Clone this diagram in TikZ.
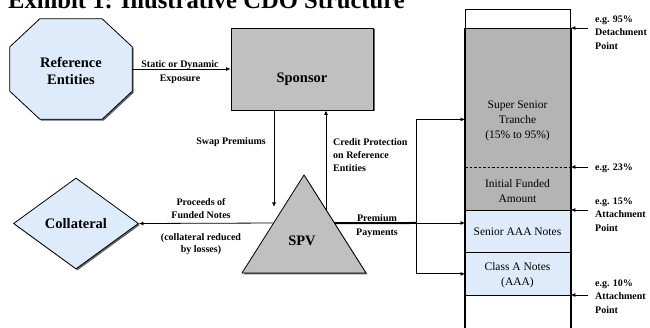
\documentclass[tikz,border=0pt]{standalone}
\usepackage{fontspec}
\setmainfont{Liberation Serif}
\usetikzlibrary{arrows.meta,shapes.geometric,shadows,calc}
\definecolor{lblue}{RGB}{221,235,250}
\definecolor{lgray}{RGB}{192,192,192}
\definecolor{sgray}{RGB}{180,180,180}
\begin{document}
\begin{tikzpicture}[x=1pt,y=-1pt,
  shad/.style={drop shadow={shadow xshift=1.5pt,shadow yshift=-1.5pt,fill=black!60,opacity=1}},
  arr/.style={-{Latex[length=4.5pt,width=4pt]}, line width=0.8pt},
  lbl/.style={font=\fontsize{10}{13.5}\selectfont\bfseries, align=center, inner sep=0pt},
  big/.style={font=\fontsize{14.5}{17}\selectfont\bfseries, align=center, inner sep=0pt},
  stk/.style={font=\fontsize{11.5}{15}\selectfont, align=center, inner sep=0pt},
  seg/.style={draw, line width=0.8pt, minimum width=105pt, inner sep=0pt, anchor=north west},
  rlbl/.style={font=\fontsize{10}{13.5}\selectfont\bfseries, align=left, inner sep=0pt, anchor=base west},
]
\useasboundingbox (0,0) rectangle (650,328);
\clip (0,0) rectangle (650,328);

% title
\node[anchor=base west, inner sep=0pt, font=\fontsize{24.6}{28}\selectfont\bfseries] (title) at (8,9) {Exhibit 1: Illustrative CDO Structure};

% reference entities (octagon)
\node[minimum width=122pt, minimum height=100pt, inner sep=0pt] (ref) at (71,69) {};
\draw[line width=0.8pt, fill=lblue, shad]
  ($(ref.north west)+(30,0)$) -- ($(ref.north east)+(-30,0)$) --
  ($(ref.north east)+(0,28)$) -- ($(ref.south east)+(0,-28)$) --
  ($(ref.south east)+(-30,0)$) -- ($(ref.south west)+(30,0)$) --
  ($(ref.south west)+(0,-28)$) -- ($(ref.north west)+(0,28)$) -- cycle;
\node[big, anchor=base] (reftxt) at (71,85) {Reference\\Entities};

% sponsor
\node[draw, line width=0.8pt, fill=lgray, minimum width=142pt, minimum height=82pt, shad] (spon) at (302,69) {};
\node[big, anchor=base] (spontxt) at (302,83) {Sponsor};

% collateral
\node[diamond, draw, line width=0.8pt, fill=lblue, minimum width=125pt, minimum height=91pt, inner sep=0pt, shad] (coll) at (76,223.5) {};
\node[big, anchor=base] (colltxt) at (76,229) {Collateral};

% SPV triangle
\coordinate (A) at (304,175);
\coordinate (B) at (242,273);
\coordinate (C) at (366,273);
\draw[line width=0.8pt, fill=lgray, shad] (A) -- (B) -- (C) -- cycle;
\node[big, anchor=base] (spvtxt) at (302,246) {SPV};

% stack
\node[seg, minimum height=19pt, fill=white] (top) at (465,9) {};
\node[seg, minimum height=182pt, fill=sgray] (gray) at (465,28) {};
\node[seg, minimum height=42pt, fill=lblue] (saaa) at (465,210) {};
\node[seg, minimum height=43pt, fill=lblue] (classa) at (465,252) {};
\node[seg, minimum height=45pt, fill=white] (bot) at (465,295) {};
\draw[line width=1.4pt] (gray.north west) -- (bot.south west);
\draw[line width=1.4pt] (gray.north east) -- (bot.south east);
\coordinate (d23) at (588,167);
\draw[line width=0.7pt, dash pattern=on 2.5pt off 2pt] (d23 -| gray.west) -- (d23 -| gray.east);

\node[stk, anchor=base] (sstxt) at (517.5,139) {Super Senior\\Tranche\\(15\% to 95\%)};
\node[stk, anchor=base] (ifatxt) at (517.5,203) {Initial Funded\\Amount};
\node[stk, anchor=base] (saaatxt) at (517.5,236) {Senior AAA Notes};
\node[stk, anchor=base] (classatxt) at (517.5,286) {Class A Notes\\(AAA)};

% right markers
\coordinate (d95) at (588,28);
\coordinate (d15) at (588,210);
\coordinate (d10) at (588,295);
\draw[arr] (d95) -- (d95 -| top.east);
\draw[arr] (d23) -- (d23 -| gray.east);
\draw[arr] (d15) -- (d15 -| saaa.east);
\draw[arr] (d10) -- (d10 -| classa.east);
\node[rlbl] (l95) at (595,49.5) {e.g. 95\%\\Detachment\\Point};
\node[rlbl] (l23) at (595,170.5) {e.g. 23\%};
\node[rlbl] (l15) at (595,231.5) {e.g. 15\%\\Attachment\\Point};
\node[rlbl] (l10) at (595,313.5) {e.g. 10\%\\Attachment\\Point};

% connectors
\draw[arr] (ref.east) -- (spon.west);
\node[lbl, anchor=base, font=\fontsize{10}{14}\selectfont\bfseries] (exptxt) at (180,82) {Static or Dynamic\\Exposure};

\coordinate (swapend) at (274,207);
\draw[arr] (swapend |- spon.south) -- (swapend);
\node[lbl, anchor=base east] (swaptxt) at (266,145) {Swap Premiums};

\coordinate (cp) at ($(A)!0.355!(C)$);
\draw[arr] (cp) -- (cp |- spon.south);
\node[lbl, align=left, anchor=base west, font=\fontsize{10}{13}\selectfont\bfseries] (cptxt) at (333,171.5) {Credit Protection\\on Reference\\Entities};

\coordinate (cl) at ($(A)!0.49!(B)$);
\draw[arr] (cl) -- (coll.east);
\node[lbl, anchor=base, font=\fontsize{10}{13}\selectfont\bfseries] (proctxt) at (201,218.5) {Proceeds of\\Funded Notes};
\node[lbl, anchor=base, font=\fontsize{10}{12.5}\selectfont\bfseries] (redtxt) at (201,253) {(collateral reduced\\by losses)};

\coordinate (pstart) at ($(A)!0.49!(C)$);
\coordinate (j) at (416,223);
\draw[line width=2pt] (pstart) -- (j);
\draw[line width=0.8pt] (j |- gray.west) -- (j |- classa.west);
\draw[arr] (j |- gray.west) -- (gray.west);
\draw[arr] (j) -- (j -| saaa.west);
\draw[arr] (j |- classa.west) -- (classa.west);
\node[lbl, anchor=base, font=\fontsize{10}{14}\selectfont\bfseries] (premtxt) at (377,235.5) {Premium\\Payments};
\end{tikzpicture}
\end{document}
